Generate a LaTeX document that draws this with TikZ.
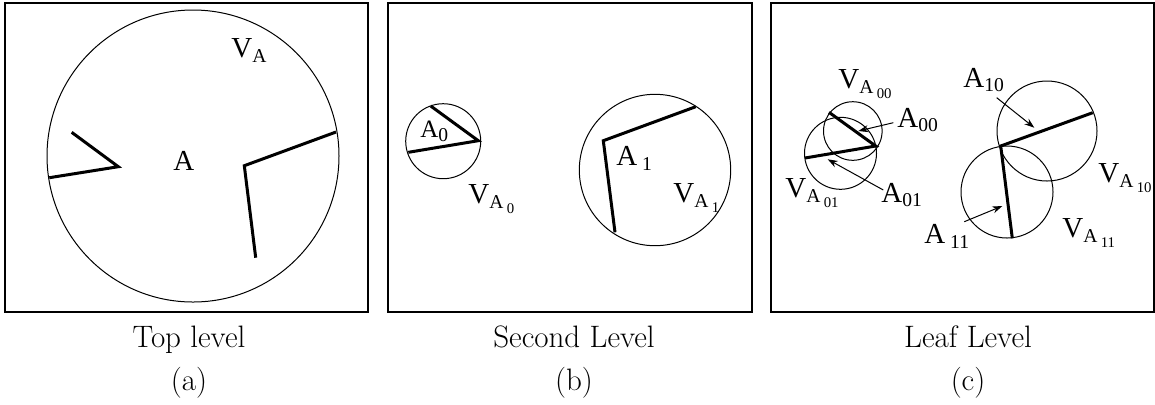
\documentclass[tikz,border=0pt]{standalone}
\usepackage{fontspec}
\usetikzlibrary{arrows.meta}
\newfontfamily\tnr{Liberation Serif}
\newcommand\sA[1]{\raisebox{-2.8pt}{\fontsize{9.8}{9.8}\selectfont #1}}
\newcommand\sB[1]{\raisebox{-2.2pt}{\fontsize{7.4}{7.4}\selectfont #1}}
\newcommand\sD[1]{\raisebox{-2pt}{\fontsize{9.8}{9.8}\selectfont #1}}
\tikzset{
  frame/.style={line width=0.55pt},
  cell/.style={line width=0.5pt},
  wall/.style={line width=1.5pt, line join=miter},
  lab/.style={inner sep=0pt, anchor=base west, font=\tnr\fontsize{14.5}{14.5}\selectfont},
  captxt/.style={inner sep=0pt, anchor=base, font=\fontsize{15.5}{17}\selectfont},
  ptr/.style={line width=0.5pt, -{Stealth[length=5pt,width=3.5pt]}}
}
\begin{document}
\begin{tikzpicture}[x=0.5pt,y=-0.5pt]
\useasboundingbox (0,0) rectangle (1155,404);
% frames
\draw[frame] (5,3) rectangle (368,312);
\draw[frame] (388,3) rectangle (752,312);
\draw[frame] (771,3) rectangle (1154,312);
% ---------- (a)
\draw[cell] (193,156) circle (146);
\coordinate (a1) at (71.7,132.3);
\coordinate (a2) at (118.3,166.7);
\coordinate (a3) at (49.3,177.7);
\draw[wall] (a1) -- (a2) -- (a3);
\coordinate (a4) at (336,132);
\coordinate (a5) at (244.3,165.7);
\coordinate (a6) at (255.7,257.7);
\draw[wall] (a4) -- (a5) -- (a6);
\node[lab] (la) at (173,170) {A};
\node[lab] (lva) at (231,57) {V\sA{A}};
% ---------- (b)
\draw[cell] (443.2,141.2) circle (37.5);
\coordinate (b1) at (430.7,106);
\coordinate (b2) at (478.3,140.7);
\coordinate (b3) at (408.3,152.3);
\draw[wall] (b1) -- (b2) -- (b3);
\draw[cell] (655,170) circle (75.7);
\coordinate (b4) at (695.7,106.7);
\coordinate (b5) at (603.3,140.7);
\coordinate (b6) at (615,232.3);
\draw[wall] (b4) -- (b5) -- (b6);
\node[lab, font=\tnr\fontsize{12.5}{12.5}\selectfont] (la0) at (420,137) {A\sD{0}};
\node[lab] (lva0) at (468,203) {V\sA{A\,\sB{0}}};
\node[lab] (la1) at (616,165) {A\,\sA{1}};
\node[lab] (lva1) at (673,202) {V\sA{A\,\sB{1}}};
% ---------- (c)
\draw[cell] (852.8,131) circle (29.3);
\draw[cell] (840.5,153.3) circle (36);
\coordinate (c1) at (829,112.3);
\coordinate (c2) at (875.7,146);
\coordinate (c3) at (805,158);
\draw[wall] (c1) -- (c2) -- (c3);
\draw[cell] (1047,131) circle (50);
\draw[cell] (1007,192) circle (46);
\coordinate (c4) at (1092.7,112.7);
\coordinate (c5) at (1000.7,146);
\coordinate (c6) at (1012.3,238.3);
\draw[wall] (c4) -- (c5) -- (c6);
\node[lab] (lva00) at (838,88) {V\sA{A\,\sB{00}}};
\node[lab] (la00) at (897,127) {A\sD{00}};
\node[lab] (lva01) at (785,197) {V\sA{A\,\sB{01}}};
\node[lab] (la01) at (881,202) {A\sD{01}};
\node[lab] (la10) at (963,87) {A\sD{10}};
\node[lab] (la11) at (924,243) {A\,\sA{11}};
\node[lab] (lva10) at (1098,182) {V\sA{A\,\sB{10}}};
\node[lab] (lva11) at (1062,237) {V\sA{A\,\sB{11}}};
% pointer arrows
\coordinate (p00s) at (893.3,122.7); \coordinate (p00e) at (858.3,131);
\coordinate (p01s) at (883.3,190);   \coordinate (p01e) at (827.7,159.3);
\coordinate (p10s) at (996.7,97.7);  \coordinate (p10e) at (1034.3,127.7);
\coordinate (p11s) at (964.3,221.7); \coordinate (p11e) at (1002.3,206);
\draw[ptr] (p00s) -- (p00e);
\draw[ptr] (p01s) -- (p01e);
\draw[ptr] (p10s) -- (p10e);
\draw[ptr] (p11s) -- (p11e);
% captions
\node[captxt] (capa) at (189,347) {Top level};
\node[captxt] (capa2) at (189,390) {(a)};
\node[captxt] (capb) at (574,347) {Second Level};
\node[captxt] (capb2) at (574,390) {(b)};
\node[captxt] (capc) at (968,347) {Leaf Level};
\node[captxt] (capc2) at (968,390) {(c)};
\end{tikzpicture}
\end{document}
